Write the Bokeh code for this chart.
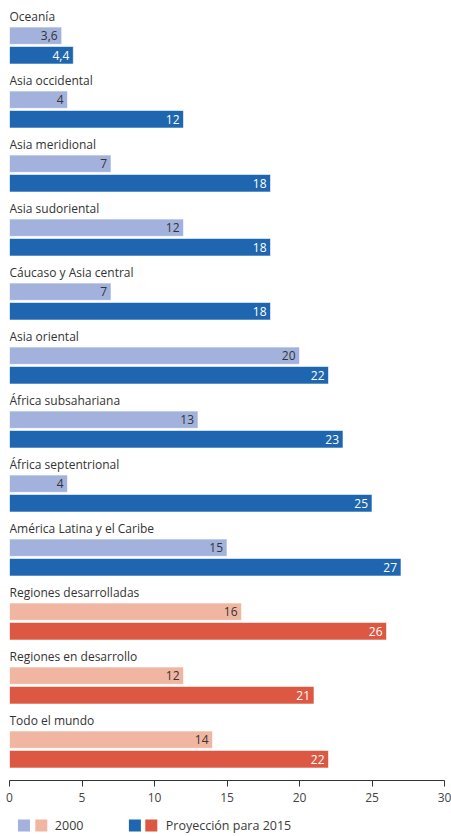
from bokeh.plotting import figure
from bokeh.models import Range1d, ColumnDataSource, FixedTicker
from bokeh.layouts import column
from bokeh.core.properties import value
from bokeh.embed import file_html
from bokeh.resources import INLINE

regions = ["Oceanía", "Asia occidental", "Asia meridional", "Asia sudoriental",
           "Cáucaso y Asia central", "Asia oriental", "África subsahariana",
           "África septentrional", "América Latina y el Caribe",
           "Regiones desarrolladas", "Regiones en desarrollo", "Todo el mundo"]
v2000 = [3.6, 4, 7, 12, 7, 20, 13, 4, 15, 16, 12, 14]
v2015 = [4.4, 12, 18, 18, 18, 22, 23, 25, 27, 26, 21, 22]
is_aggregate = [False] * 9 + [True] * 3
x_ticks = [0, 5, 10, 15, 20, 25, 30]
legend_labels = ["2000", "Proyección para 2015"]

LIGHT_BLUE = "#a2b2dd"
DARK_BLUE = "#1e66b0"
LIGHT_RED = "#f0b6a1"
DARK_RED = "#dc5842"
FONT = "Open Sans"

def fmt(v):
    return f"{v:g}".replace(".", ",")

n = len(regions)
idx = list(range(n))
src = ColumnDataSource(dict(
    y_lab=[i for i in idx],
    y1=[i + 0.30 for i in idx],
    y2=[i + 0.605 for i in idx],
    region=regions,
    v1=v2000,
    v2=v2015,
    t1=[fmt(v) for v in v2000],
    t2=[fmt(v) for v in v2015],
    c1=[LIGHT_RED if a else LIGHT_BLUE for a in is_aggregate],
    c2=[DARK_RED if a else DARK_BLUE for a in is_aggregate],
))

W = 451
p = figure(frame_width=435, frame_height=780, output_backend="svg",
           toolbar_location=None,
           x_range=Range1d(0, 30), y_range=Range1d(11.9375, -0.25),
           y_axis_location=None, min_border_left=9, min_border_right=7,
           min_border_top=0, min_border_bottom=36)
p.outline_line_color = None
p.xgrid.visible = False
p.ygrid.visible = False

p.hbar(y="y1", left=0, right="v1", height=0.27, fill_color="c1",
       line_color="white", line_width=0.6, source=src)
p.hbar(y="y2", left=0, right="v2", height=0.275, fill_color="c2",
       line_color="white", line_width=0.6, source=src)

p.text(x=0, y="y_lab", text="region", source=src, text_align="left",
       text_baseline="middle", text_font=value(FONT), text_font_size="12px",
       text_color="#333333")
p.text(x="v1", y="y1", text="t1", source=src, x_offset=-4, text_align="right",
       text_baseline="middle", text_font=value(FONT), text_font_size="12px",
       text_color="#333333")
p.text(x="v2", y="y2", text="t2", source=src, x_offset=-4, text_align="right",
       text_baseline="middle", text_font=value(FONT), text_font_size="12px",
       text_color="white", text_font_style="normal")

ax = p.xaxis[0]
ax.ticker = FixedTicker(ticks=x_ticks)
ax.minor_tick_line_color = None
ax.major_tick_in = 0
ax.major_tick_out = 6
ax.axis_line_color = "#333333"
ax.major_tick_line_color = "#333333"
ax.major_label_text_font = FONT
ax.major_label_text_font_size = "12px"
ax.major_label_text_color = "#444444"
ax.major_label_standoff = 6

# legend strip
lg = figure(width=W, height=18, output_backend="svg", toolbar_location=None,
            x_range=Range1d(0, W), y_range=Range1d(0, 1),
            x_axis_location=None, y_axis_location=None,
            min_border=0)
lg.outline_line_color = None
lg.xgrid.visible = False
lg.ygrid.visible = False
lsrc = ColumnDataSource(dict(x=[15, 33, 130, 147],
                             c=[LIGHT_BLUE, LIGHT_RED, DARK_BLUE, DARK_RED]))
lg.rect(x="x", y=0.5, width=12, height=12, width_units="screen",
        height_units="screen", fill_color="c", line_color=None, source=lsrc)
lg.text(x=[47, 162], y=[0.5, 0.5], text=legend_labels, text_align="left",
        text_baseline="middle", text_font=value(FONT), text_font_size="12.5px",
        text_color="#3a3a3a")

layout = column(p, lg, spacing=0)
open("out.html", "w").write(file_html(layout, INLINE))
